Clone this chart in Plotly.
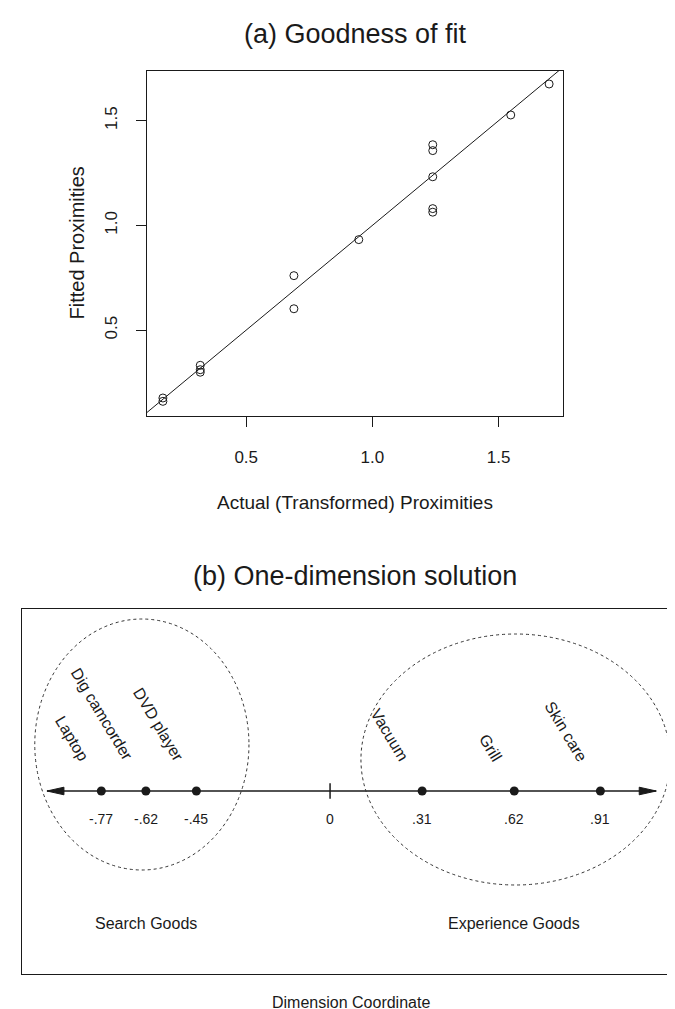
import plotly.graph_objects as go

W, H = 675, 1009
FONT = "Liberation Sans, Arial, sans-serif"
INK = "#1a1a1a"

# ---------------- Panel (a): goodness of fit ----------------
actual = [0.170, 0.170, 0.318, 0.318, 0.318, 0.689, 0.689, 0.946,
          1.239, 1.239, 1.239, 1.239, 1.239, 1.548, 1.700]
fitted = [0.176, 0.160, 0.332, 0.311, 0.299, 0.760, 0.602, 0.932,
          1.385, 1.357, 1.232, 1.080, 1.063, 1.527, 1.675]
fit_line_x = [0.0, 2.0]
fit_line_y = [0.0, 2.0]
a_tickvals = [0.5, 1.0, 1.5]
a_ticktext = ["0.5", "1.0", "1.5"]

# ---------------- Panel (b): one-dimension solution ----------------
products = ["Laptop", "Dig camcorder", "DVD player", "Vacuum", "Grill", "Skin care"]
coords = [-0.77, -0.62, -0.45, 0.31, 0.62, 0.91]
coord_labels = ["-.77", "-.62", "-.45", ".31", ".62", ".91"]
origin = [0.0]
origin_label = ["0"]
axis_ends = [-0.953, 1.098]
groups = ["Search Goods", "Experience Goods"]
group_centers = [-0.62, 0.62]
group_x0 = [-0.994, 0.104]
group_x1 = [-0.273, 1.145]
group_y0 = [-79, -94]
group_y1 = [172, 157]

# layout geometry (pixels)
a_left, a_right, a_top, a_bottom = 139, 555, 63, 408
b_left, b_right, b_top, b_bottom = 14, 672, 601, 966
axis_row = 783
xr_a = [0.107, 1.755]
yr_a = [0.090, 1.737]
xr_b = [-1.037, 1.178]
yr_b = [-(b_bottom - axis_row), axis_row - b_top]  # pixel-like units, axis line at 0
px_per_unit_b = (b_right - b_left) / (xr_b[1] - xr_b[0])

fig = go.Figure()

# (a) fitted line and points
fig.add_trace(go.Scatter(x=fit_line_x, y=fit_line_y, mode="lines",
                         line=dict(color=INK, width=1), xaxis="x", yaxis="y",
                         showlegend=False, hoverinfo="skip"))
fig.add_trace(go.Scatter(x=actual, y=fitted, mode="markers",
                         marker=dict(symbol="circle-open", size=8,
                                     color=INK, line=dict(width=1, color=INK)),
                         xaxis="x", yaxis="y", showlegend=False))

# (b) axis line
fig.add_trace(go.Scatter(x=axis_ends, y=[0, 0], mode="lines",
                         line=dict(color=INK, width=1.5), xaxis="x2", yaxis="y2",
                         showlegend=False, hoverinfo="skip"))
# arrowheads built from the axis ends
head_len = 17 / px_per_unit_b
head_half = 3.8
for end, sgn in zip(axis_ends, [1, -1]):
    fig.add_trace(go.Scatter(x=[end, end + sgn * head_len, end + sgn * head_len, end],
                             y=[0, head_half, -head_half, 0], mode="lines",
                             fill="toself", fillcolor=INK,
                             line=dict(color=INK, width=1), xaxis="x2", yaxis="y2",
                             showlegend=False, hoverinfo="skip"))
# origin tick
fig.add_trace(go.Scatter(x=origin, y=[0], mode="markers",
                         marker=dict(symbol="line-ns-open", size=11, color=INK,
                                     line=dict(width=1.5, color=INK)),
                         xaxis="x2", yaxis="y2", showlegend=False))
# product points
fig.add_trace(go.Scatter(x=coords, y=[0] * len(coords), mode="markers",
                         marker=dict(symbol="circle", size=9, color=INK),
                         xaxis="x2", yaxis="y2", showlegend=False,
                         text=products))

# group ellipses
for x0, x1, y0, y1 in zip(group_x0, group_x1, group_y0, group_y1):
    fig.add_shape(type="circle", xref="x2", yref="y2", x0=x0, x1=x1, y0=y0, y1=y1,
                  line=dict(color="#333333", width=1, dash="dot"))


def paper_text(text, px, py, size, angle=0):
    return dict(text=text, x=px / W, y=1 - py / H, xref="paper", yref="paper",
                xanchor="center", yanchor="middle", showarrow=False, textangle=angle,
                font=dict(size=size, family=FONT, color=INK))


ann = []
ann.append(paper_text("(a) Goodness of fit", (a_left + a_right) / 2, 26, 27))
ann.append(paper_text("(b) One-dimension solution", 347, 568, 27))
ann.append(paper_text("Actual (Transformed) Proximities", (a_left + a_right) / 2, 494, 19))
ann.append(paper_text("Fitted Proximities", 68, (a_top + a_bottom) / 2, 20, -90))
ann.append(paper_text("Dimension Coordinate", (b_left + b_right) / 2, 994, 16))

# (b) coordinate labels
for xv, lab in zip(coords + origin, coord_labels + origin_label):
    ann.append(dict(text=lab, x=xv, y=0, xref="x2", yref="y2", showarrow=False,
                    xanchor="center", yanchor="middle",
                    yshift=-28, font=dict(size=14, family=FONT, color=INK)))
# (b) product labels, rotated
for xv, lab in zip(coords, products):
    ann.append(dict(text=lab, x=xv, y=0, xref="x2", yref="y2", showarrow=False,
                    textangle=59, xanchor="right", yanchor="bottom",
                    xshift=-7, yshift=24, font=dict(size=16, family=FONT, color=INK)))
# group labels
for xv, lab in zip(group_centers, groups):
    ann.append(dict(text=lab, x=xv, y=axis_row - 915, xref="x2", yref="y2",
                    showarrow=False, xanchor="center", yanchor="middle",
                    font=dict(size=16, family=FONT, color=INK)))

axis_common = dict(showgrid=False, zeroline=False, showline=True, mirror=True,
                   linecolor=INK, linewidth=1)

fig.update_layout(
    width=W, height=H, margin=dict(l=0, r=0, t=0, b=0),
    paper_bgcolor="white", plot_bgcolor="white",
    font=dict(family=FONT, color=INK),
    showlegend=False,
    annotations=ann,
    xaxis=dict(domain=[a_left / W, a_right / W], range=xr_a, anchor="y",
               tickvals=a_tickvals, ticktext=a_ticktext, ticks="outside",
               ticklen=10, tickcolor=INK, tickfont=dict(size=17),
               ticklabelstandoff=16, **axis_common),
    yaxis=dict(domain=[1 - a_bottom / H, 1 - a_top / H], range=yr_a, anchor="x",
               tickvals=a_tickvals, ticktext=a_ticktext, ticks="outside",
               ticklen=10, tickcolor=INK, tickfont=dict(size=17), tickangle=-90,
               ticklabelstandoff=12, **axis_common),
    xaxis2=dict(domain=[b_left / W, b_right / W], range=xr_b, anchor="y2",
                showticklabels=False, ticks="", **axis_common),
    yaxis2=dict(domain=[1 - b_bottom / H, 1 - b_top / H], range=yr_b, anchor="x2",
                showticklabels=False, ticks="", **axis_common),
)

fig.write_html("out.html")
